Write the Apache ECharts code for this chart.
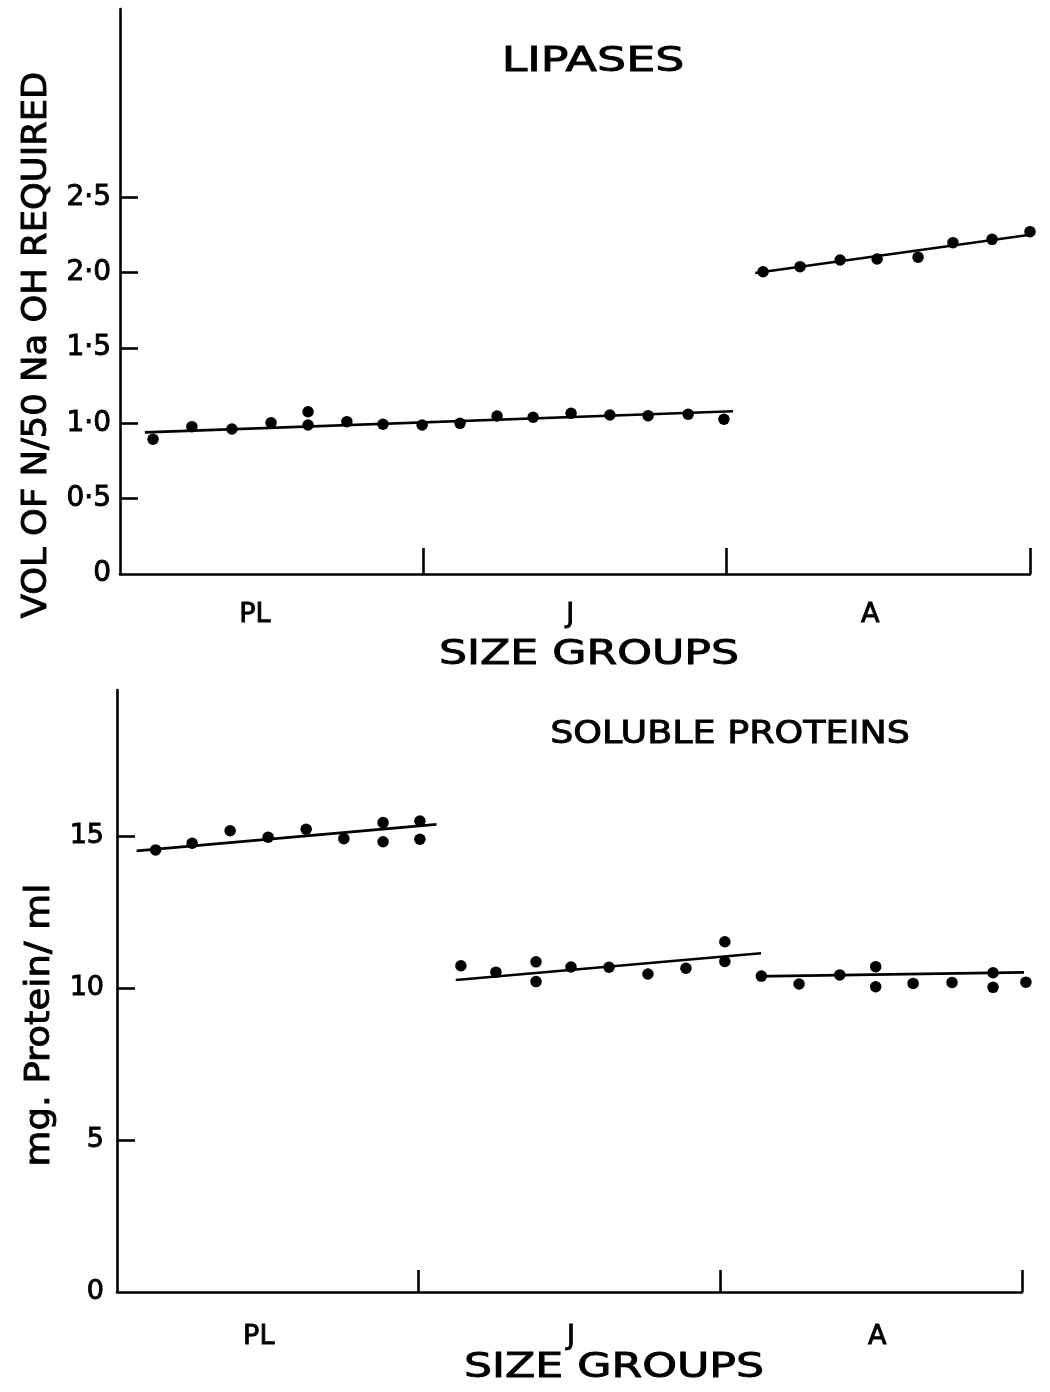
<!DOCTYPE html>
<html>
<head>
<meta charset="utf-8">
<script src="https://cdn.jsdelivr.net/npm/echarts@6/dist/echarts.min.js"></script>
<style>
  html, body { margin: 0; padding: 0; background: #ffffff; }
  #chart { width: 1050px; height: 1392px; }
</style>
</head>
<body>
<div id="chart"></div>
<script>
// Size groups along the x axis (post-larvae, juveniles, adults)
const sizeGroups = ['PL', 'J', 'A'];
const lipaseTickValues = [0, 0.5, 1, 1.5, 2, 2.5];
const proteinTickValues = [0, 5, 10, 15];

// Lipases: volume of N/50 NaOH required, PL + J animals
const lipasePJ_x = [0.109, 0.237, 0.369, 0.498, 0.620, 0.620, 0.748, 0.867, 0.996, 1.121, 1.243, 1.362, 1.487, 1.615, 1.741, 1.873, 1.991];
const lipasePJ_y = [0.894, 0.978, 0.962, 1.004, 1.077, 0.989, 1.011, 0.994, 0.989, 1.000, 1.049, 1.040, 1.067, 1.055, 1.051, 1.060, 1.027];
const lipasePJ_fit = [[0.082, 0.94], [2.021, 1.08]];

// Lipases, adults
const lipaseA_x = [2.12, 2.242, 2.374, 2.496, 2.631, 2.746, 2.875, 3.0];
const lipaseA_y = [2.006, 2.040, 2.084, 2.091, 2.102, 2.199, 2.221, 2.272];
const lipaseA_fit = [[2.094, 1.998], [3.066, 2.27]];

// Soluble proteins (mg protein / ml)
const proteinPL_x = [0.128, 0.249, 0.375, 0.501, 0.627, 0.752, 0.882, 0.882, 1.004, 1.004];
const proteinPL_y = [14.54, 14.76, 15.17, 14.96, 15.22, 14.91, 15.44, 14.81, 15.49, 14.89];
const proteinPL_fit = [[0.065, 14.51], [1.059, 15.38]];

const proteinJ_x = [1.140, 1.256, 1.389, 1.389, 1.505, 1.631, 1.760, 1.886, 2.015, 2.015];
const proteinJ_y = [10.73, 10.52, 10.86, 10.21, 10.69, 10.68, 10.46, 10.65, 11.52, 10.87];
const proteinJ_fit = [[1.123, 10.26], [2.135, 11.14]];

const proteinA_x = [2.136, 2.261, 2.396, 2.515, 2.515, 2.639, 2.768, 2.904, 2.904, 3.013];
const proteinA_y = [10.39, 10.13, 10.43, 10.70, 10.04, 10.15, 10.18, 10.50, 10.02, 10.19];
const proteinA_fit = [[2.118, 10.38], [3.051, 10.52]];

const INK = '#000000';
const FONT = 'DejaVu Sans';

const zip = (xs, ys) => xs.map((x, i) => [x, ys[i]]);

function dots(idx, xs, ys) {
  return {
    type: 'scatter', xAxisIndex: idx, yAxisIndex: idx,
    data: zip(xs, ys), symbol: 'circle', symbolSize: 11.5,
    itemStyle: { color: INK, opacity: 1 }, clip: false, silent: true
  };
}
function fitLine(idx, pts) {
  return {
    type: 'line', xAxisIndex: idx, yAxisIndex: idx,
    data: pts, showSymbol: false, symbol: 'none', clip: false,
    lineStyle: { color: INK, width: 2.6 }, silent: true
  };
}

// Slightly heavier lettering: outline the glyphs in the same ink
const heavy = { textBorderColor: INK, textBorderWidth: 0.9 };

function xAxisFor(gridIndex, labelPos, tickLen, margin) {
  return {
    type: 'value', gridIndex, min: 0, max: 3,
    axisLine: { show: true, onZero: false, lineStyle: { color: INK, width: 2.6 } },
    axisTick: { show: true, inside: true, length: tickLen, customValues: [1, 2, 3],
                lineStyle: { color: INK, width: 2.6 } },
    axisLabel: Object.assign({ customValues: labelPos, formatter: v => sizeGroups[Math.floor(v)],
                 color: INK, fontFamily: FONT, fontSize: 27, margin }, heavy),
    splitLine: { show: false }
  };
}

const fmtDot = v => (v === 0 ? '0' : v.toFixed(1).replace('.', '\u00B7'));

function label(text, x, y, size, sx, rot) {
  return {
    type: 'text', x, y, rotation: rot || 0, scaleX: sx,
    style: { text, fill: INK, stroke: INK, lineWidth: 0.9,
             font: size + 'px "DejaVu Sans"', align: 'center', verticalAlign: 'middle' }
  };
}

const option = {
  backgroundColor: '#ffffff',
  animation: false,
  grid: [
    { left: 120, top: 9, width: 910, height: 565 },
    { left: 117, top: 690, width: 905, height: 602 }
  ],
  xAxis: [
    xAxisFor(0, [0.445, 1.484, 2.473], 26, 27),
    xAxisFor(1, [0.47, 1.505, 2.52], 22, 31)
  ],
  yAxis: [
    {
      type: 'value', gridIndex: 0, min: 0, max: 3.75,
      axisLine: { show: true, lineStyle: { color: INK, width: 2.6 } },
      axisTick: { show: true, inside: true, length: 18, customValues: lipaseTickValues.slice(1),
                  lineStyle: { color: INK, width: 2.6 } },
      axisLabel: Object.assign({ customValues: lipaseTickValues, formatter: fmtDot,
                   color: INK, fontFamily: FONT, fontSize: 28, margin: 9 }, heavy),
      splitLine: { show: false }
    },
    {
      type: 'value', gridIndex: 1, min: 0, max: 19.8,
      axisLine: { show: true, lineStyle: { color: INK, width: 2.6 } },
      axisTick: { show: true, inside: true, length: 18, customValues: proteinTickValues.slice(1),
                  lineStyle: { color: INK, width: 2.6 } },
      axisLabel: Object.assign({ customValues: proteinTickValues, formatter: v => String(v),
                   color: INK, fontFamily: FONT, fontSize: 27, margin: 13 }, heavy),
      splitLine: { show: false }
    }
  ],
  graphic: [
    label('LIPASES', 593, 62, 34, 1.35),
    label('SIZE GROUPS', 589, 655, 34, 1.3),
    label('SOLUBLE PROTEINS', 730, 735, 32, 1.14),
    label('SIZE GROUPS', 614, 1368, 34, 1.3),
    label('VOL OF N/50 Na OH REQUIRED', 37, 345, 34, 1.04, Math.PI / 2),
    label('mg. Protein/ ml', 40, 1025, 33, 1.12, Math.PI / 2)
  ],
  series: [
    fitLine(0, lipasePJ_fit), dots(0, lipasePJ_x, lipasePJ_y),
    fitLine(0, lipaseA_fit), dots(0, lipaseA_x, lipaseA_y),
    fitLine(1, proteinPL_fit), dots(1, proteinPL_x, proteinPL_y),
    fitLine(1, proteinJ_fit), dots(1, proteinJ_x, proteinJ_y),
    fitLine(1, proteinA_fit), dots(1, proteinA_x, proteinA_y)
  ]
};

const chart = echarts.init(document.getElementById('chart'), null, { renderer: 'canvas' });
chart.setOption(option);
</script>
</body>
</html>
